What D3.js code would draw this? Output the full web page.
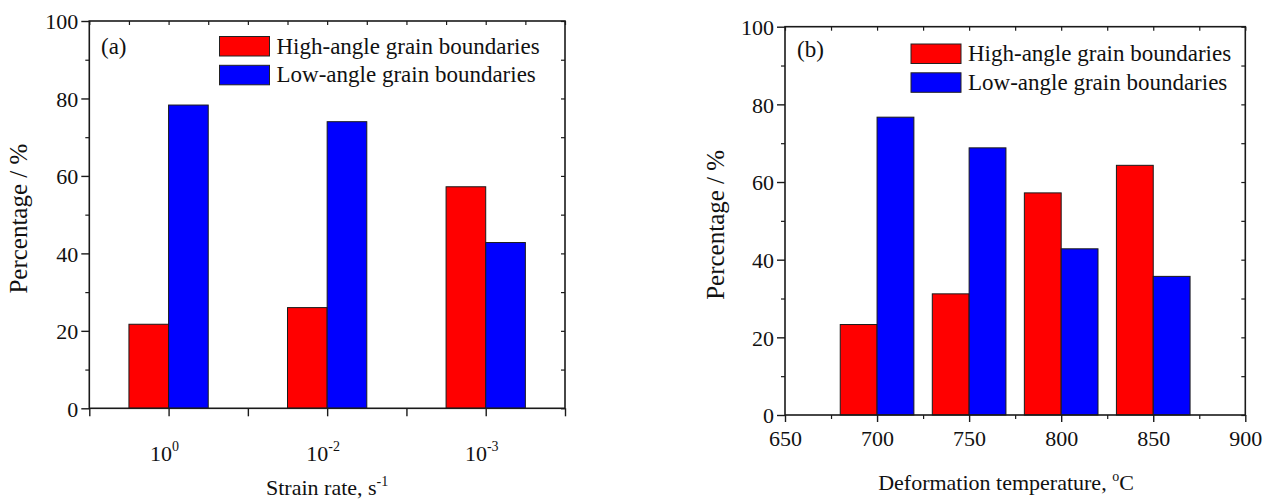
<!DOCTYPE html>
<html>
<head>
<meta charset="utf-8">
<script src="https://cdn.jsdelivr.net/npm/d3@7"></script>
<style>
  html, body { margin: 0; padding: 0; background: #fff; }
  svg { display: block; }
  svg text { font-family: "Liberation Serif", "Times New Roman", serif !important; }
</style>
</head>
<body>
<svg id="chart" width="1274" height="500"></svg>
<script>
// Grain boundary fractions, panel (a): by strain rate
const rateBase = ["10", "10", "10"];
const rateExp = ["0", "-2", "-3"];
const rateHigh = [21.7, 26.0, 57.2];
const rateLow = [78.3, 74.0, 42.8];

// Panel (b): by deformation temperature (°C)
const temps = [700, 750, 800, 850];
const tempHigh = [23.3, 31.2, 57.2, 64.3];
const tempLow = [76.7, 68.8, 42.8, 35.7];
const tempTicks = [650, 700, 750, 800, 850, 900];

const yTicks = [0, 20, 40, 60, 80, 100];
const seriesNames = ["High-angle grain boundaries", "Low-angle grain boundaries"];
const seriesColors = ["#ff0000", "#0000ff"];

const svg = d3.select("#chart");
const AX = "#1a1a1a";

function frame(g, x0, x1, y) {
  // Left axis: labelled majors and unlabelled minors, both outward
  g.append("g").attr("transform", `translate(${x0},0)`)
    .call(d3.axisLeft(y).tickValues(yTicks).tickSize(8).tickSizeOuter(0).tickPadding(3))
    .call(a => a.select(".domain").remove())
    .call(a => a.selectAll("line").attr("stroke", AX).attr("stroke-width", 1.4))
    .call(a => a.selectAll("text").attr("font-size", 22).attr("fill", "#111").attr("dy", "0.35em"));
  g.append("g").attr("transform", `translate(${x0},0)`)
    .call(d3.axisLeft(y).tickValues([10, 30, 50, 70, 90]).tickSize(4).tickFormat(""))
    .call(a => a.select(".domain").remove())
    .call(a => a.selectAll("line").attr("stroke", AX).attr("stroke-width", 1.2));
  // Right axis: inward ticks
  g.append("g").attr("transform", `translate(${x1},0)`)
    .call(d3.axisRight(y).tickValues(d3.range(0, 101, 10)).tickSize(-4).tickFormat(""))
    .call(a => a.select(".domain").remove())
    .call(a => a.selectAll("line").attr("stroke", AX).attr("stroke-width", 1.2));
  // Box
  const [yb, yt] = y.range();
  g.append("rect").attr("x", x0).attr("y", yt).attr("width", x1 - x0).attr("height", yb - yt)
    .attr("fill", "none").attr("stroke", AX).attr("stroke-width", 1.6);
}

function legend(g, bx, by) {
  seriesNames.forEach((name, i) => {
    const yy = by + i * 28.8;
    g.append("rect").attr("x", bx).attr("y", yy).attr("width", 50).attr("height", 19.5)
      .attr("fill", seriesColors[i]).attr("stroke", "#222").attr("stroke-width", 1);
    g.append("text").attr("x", bx + 57).attr("y", yy + 17).attr("font-size", 23)
      .attr("fill", "#111").text(name);
  });
}

function bars(g, data, xLeft, xRight, y) {
  data.forEach((v, i) => {
    g.append("rect").attr("x", xLeft[i][0]).attr("width", xLeft[i][1] - xLeft[i][0])
      .attr("y", y(v[0])).attr("height", y(0) - y(v[0]))
      .attr("fill", seriesColors[0]).attr("stroke", "#1a1a1a").attr("stroke-width", 1);
    g.append("rect").attr("x", xRight[i][0]).attr("width", xRight[i][1] - xRight[i][0])
      .attr("y", y(v[1])).attr("height", y(0) - y(v[1]))
      .attr("fill", seriesColors[1]).attr("stroke", "#1a1a1a").attr("stroke-width", 1);
  });
}

/* ---------- Panel (a) ---------- */
{
  const x0 = 89.3, x1 = 565, g = svg.append("g");
  const y = d3.scaleLinear().domain([0, 100]).range([408.3, 21]);
  const x = d3.scaleBand().domain(d3.range(rateExp.length)).range([x0, x1]).paddingInner(0);
  const xi = d3.scaleLinear().domain([0, rateExp.length]).range([x0, x1]);
  const bw = x.bandwidth() * 0.25;
  const cx = i => x(i) + x.bandwidth() / 2;

  bars(g, rateHigh.map((h, i) => [h, rateLow[i]]),
    rateHigh.map((_, i) => [cx(i) - bw, cx(i)]),
    rateHigh.map((_, i) => [cx(i), cx(i) + bw]), y);

  // Bottom ticks every half band, outward
  g.append("g").attr("transform", `translate(0,${y(0)})`)
    .call(d3.axisBottom(xi).tickValues(d3.range(0, 3.01, 0.5)).tickSize(8).tickFormat(""))
    .call(a => a.select(".domain").remove())
    .call(a => a.selectAll("line").attr("stroke", AX).attr("stroke-width", 1.4));
  // Top ticks every quarter band, inward
  g.append("g").attr("transform", `translate(0,${y(100)})`)
    .call(d3.axisTop(xi).tickValues(d3.range(0, 3.01, 0.25)).tickSize(-4).tickFormat(""))
    .call(a => a.select(".domain").remove())
    .call(a => a.selectAll("line").attr("stroke", AX).attr("stroke-width", 1.2));

  frame(g, x0, x1, y);

  // Category labels with exponents
  rateExp.forEach((e, i) => {
    const t = g.append("text").attr("x", cx(i) - 4).attr("y", 461).attr("text-anchor", "middle")
      .attr("font-size", 22).attr("fill", "#111");
    t.append("tspan").text(rateBase[i]);
    t.append("tspan").attr("dy", -10).attr("font-size", 14).text(e);
  });

  const xt = g.append("text").attr("x", (x0 + x1) / 2).attr("y", 495).attr("text-anchor", "middle")
    .attr("font-size", 22).attr("fill", "#111");
  xt.append("tspan").text("Strain rate, s");
  xt.append("tspan").attr("dy", -9).attr("font-size", 14).text("-1");

  g.append("text").attr("transform", `translate(27,${(y(0) + y(100)) / 2 + 4}) rotate(-90)`)
    .attr("text-anchor", "middle").attr("font-size", 25).attr("fill", "#111").text("Percentage / %");

  g.append("text").attr("x", 101).attr("y", 54).attr("font-size", 23).attr("fill", "#111").text("(a)");
  legend(g, 219.5, 36.5);
}

/* ---------- Panel (b) ---------- */
{
  const x0 = 785, x1 = 1245.3, g = svg.append("g");
  const y = d3.scaleLinear().domain([0, 100]).range([415, 26.7]);
  const x = d3.scaleLinear().domain([650, 900]).range([x0, x1]);
  const half = 20; // each bar spans 20 °C on the axis

  bars(g, tempHigh.map((h, i) => [h, tempLow[i]]),
    temps.map(t => [x(t - half), x(t)]),
    temps.map(t => [x(t), x(t + half)]), y);

  g.append("g").attr("transform", `translate(0,${y(0)})`)
    .call(d3.axisBottom(x).tickValues(tempTicks).tickSize(7).tickPadding(8).tickFormat(d3.format("d")))
    .call(a => a.select(".domain").remove())
    .call(a => a.selectAll("line").attr("stroke", AX).attr("stroke-width", 1.4))
    .call(a => a.selectAll("text").attr("font-size", 22).attr("fill", "#111"));
  g.append("g").attr("transform", `translate(0,${y(0)})`)
    .call(d3.axisBottom(x).tickValues([675, 725, 775, 825, 875]).tickSize(4).tickFormat(""))
    .call(a => a.select(".domain").remove())
    .call(a => a.selectAll("line").attr("stroke", AX).attr("stroke-width", 1.2));
  g.append("g").attr("transform", `translate(0,${y(100)})`)
    .call(d3.axisTop(x).tickValues(d3.range(650, 901, 25)).tickSize(-4).tickFormat(""))
    .call(a => a.select(".domain").remove())
    .call(a => a.selectAll("line").attr("stroke", AX).attr("stroke-width", 1.2));

  frame(g, x0, x1, y);

  const xt = g.append("text").attr("x", 1006).attr("y", 490).attr("text-anchor", "middle")
    .attr("font-size", 22).attr("fill", "#111");
  xt.append("tspan").text("Deformation temperature, ");
  xt.append("tspan").attr("dy", -9).attr("font-size", 14).text("o");
  xt.append("tspan").attr("dy", 9).text("C");

  g.append("text").attr("transform", `translate(724,${(y(0) + y(100)) / 2 + 4}) rotate(-90)`)
    .attr("text-anchor", "middle").attr("font-size", 25).attr("fill", "#111").text("Percentage / %");

  g.append("text").attr("x", 797).attr("y", 57).attr("font-size", 23).attr("fill", "#111").text("(b)");
  legend(g, 911, 44);
}
</script>
</body>
</html>
